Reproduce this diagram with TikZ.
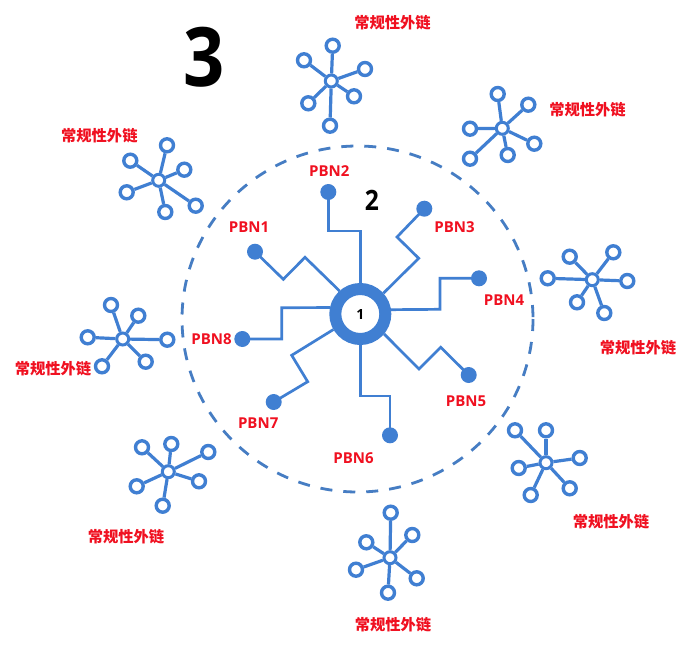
\documentclass[tikz,border=0pt]{standalone}
\usepackage{fontspec}
\setmainfont{Open Sans}
\newfontfamily\cjk{Noto Sans CJK SC}
\definecolor{netblue}{RGB}{64,127,210}
\definecolor{dashblue}{RGB}{70,125,195}
\definecolor{labelred}{RGB}{240,16,32}
\tikzset{
  pbndot/.style={circle,fill=netblue,inner sep=0pt,minimum size=16pt},
  pbnlink/.style={draw=netblue,line width=2.7pt,line join=miter},
  pbnlabel/.style={text=labelred,font=\fontsize{15}{18}\selectfont\bfseries,inner sep=0pt},
  extlabel/.style={text=labelred,font=\cjk\fontsize{15.3}{18}\selectfont\bfseries,inner sep=0pt},
  leafnode/.style={circle,draw=netblue,fill=white,line width=3.4pt,inner sep=0pt,minimum size=13pt},
  corenode/.style={circle,draw=netblue,fill=white,line width=3pt,inner sep=0pt,minimum size=12pt},
  leaflink/.style={draw=netblue,line width=3.2pt},
  hubnode/.style={circle,draw=netblue,fill=white,line width=12pt,inner sep=0pt,minimum size=50pt,font=\fontsize{14}{16}\selectfont\bfseries},
  bignum/.style={inner sep=0pt,font=\bfseries}
}
\newcommand{\starnet}[3]{%
  \node[corenode] (#1c) at (#2) {};
  \foreach \pos [count=\i] in {#3} {
    \node[leafnode] (#1l\i) at (\pos) {};
    \draw[leaflink] (#1c) -- (#1l\i);
  }
}
\begin{document}
\begin{tikzpicture}[x=1pt,y=-1pt]
\useasboundingbox[fill=white] (0,0) rectangle (700,650);
% dashed ring
\coordinate (ringc) at (357.5,319);
\draw[draw=dashblue,line width=2.8pt,dash pattern=on 12pt off 11pt] (ringc) ellipse [x radius=175.5,y radius=173];
% hub
\node[hubnode] (hub) at (360.3,314) {1};
\node[pbndot] (p1) at (255,251.7) {};
\node[pbndot] (p2) at (328.3,192) {};
\node[pbndot] (p3) at (424.3,208.7) {};
\node[pbndot] (p4) at (479,278.3) {};
\node[pbndot] (p5) at (468.7,375) {};
\node[pbndot] (p6) at (390,435.3) {};
\node[pbndot] (p7) at (273.7,402) {};
\node[pbndot] (p8) at (242.3,339) {};
\draw[pbnlink] (p1.center) -- (283.3,279.3) -- (305,257.3) -- (hub.132);
\draw[pbnlink] (p2.center) -- (328.3,231) -- (360.3,231) -- (hub.90);
\draw[pbnlink] (p3.center) -- (397,237) -- (418.7,258.3) -- (hub.42);
\draw[pbnlink] (p4.center) -- (440,278.3) -- (440,309.3) -- (hub.8.7);
\draw[pbnlink] (p5.center) -- (440.7,347.3) -- (419,369) -- (hub.-40);
\draw[pbnlink] (p6.center) -- (390,396) -- (360.3,396) -- (hub.-90);
\draw[pbnlink] (p7.center) -- (307.7,381.7) -- (291.7,355.3) -- (hub.210);
\draw[pbnlink] (p8.center) -- (281.7,339) -- (281.7,307.7) -- (hub.168.1);
% PBN labels
\node[pbnlabel] (t1) at (249,227.3) {PBN1};
\node[pbnlabel] (t2) at (329.3,171.3) {PBN2};
\node[pbnlabel] (t3) at (454.5,226.7) {PBN3};
\node[pbnlabel] (t4) at (504,300) {PBN4};
\node[pbnlabel] (t5) at (466,401.7) {PBN5};
\node[pbnlabel] (t6) at (353.5,458) {PBN6};
\node[pbnlabel] (t7) at (258.2,423.3) {PBN7};
\node[pbnlabel] (t8) at (211.5,339.3) {PBN8};
% numbers
\node[bignum,xscale=0.88] (n2) at (372,200) {\fontsize{28}{32}\selectfont 2};
\node[bignum,xscale=0.88] (n3) at (204,57) {\fontsize{82}{90}\selectfont 3};
% external link stars
\starnet{a}{331.3,81}{{332.7,45.7},{304,60.3},{365,69},{354,96.3},{308.3,103.3},{330,125.7}}
\starnet{b}{502.3,128.3}{{497.7,94},{528.3,104.7},{534.3,143.7},{507.7,155},{470,158.7},{470,128.7}}
\starnet{c}{158.7,180.3}{{167,145.3},{130.3,160.7},{184.3,169.7},{195.7,205.7},{165.3,212},{126.7,192.3}}
\starnet{d}{122.7,339}{{111,305},{138.3,315.7},{167.3,339.7},{145.7,361.7},{102,366.3},{87.7,337.3}}
\starnet{e}{168.3,471.7}{{142,447.3},{171.3,444},{208.3,452},{199,481.3},{162.7,505.7},{136.7,486.3}}
\starnet{f}{390,557.7}{{390.7,512.7},{412.3,535},{366.3,542.3},{416.7,578.3},{388,592.7},{356,569.7}}
\starnet{g}{592.3,279.7}{{569.7,256.7},{613.3,252.3},{627.3,281},{604.3,313},{577,302.3},{547.7,278.3}}
\starnet{h}{546,462.7}{{515,430.3},{546,430.3},{579.7,458},{569.7,488.3},{530.7,495},{518.7,468}}
% external labels
\node[extlabel] (ea) at (392.5,22.7) {常规性外链};
\node[extlabel] (eb) at (587.5,110) {常规性外链};
\node[extlabel] (ec) at (99.3,136) {常规性外链};
\node[extlabel] (ed) at (53,368.7) {常规性外链};
\node[extlabel] (ee) at (126,536.7) {常规性外链};
\node[extlabel] (ef) at (393,624.3) {常规性外链};
\node[extlabel] (eg) at (638,347.3) {常规性外链};
\node[extlabel] (eh) at (611,521.7) {常规性外链};
\end{tikzpicture}
\end{document}
